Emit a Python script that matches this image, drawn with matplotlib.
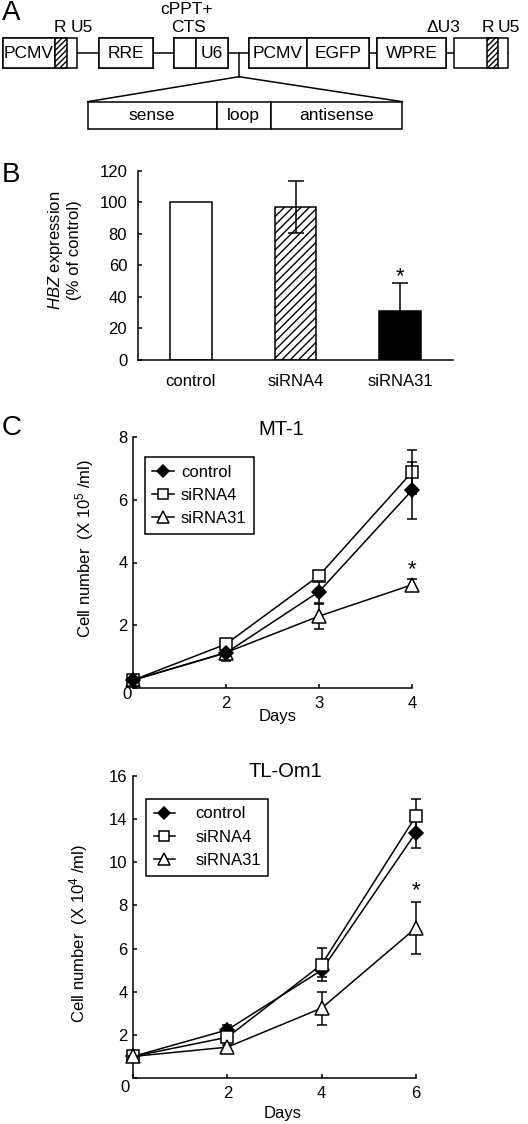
import numpy as np
import matplotlib
matplotlib.use("Agg")
import matplotlib.pyplot as plt
from matplotlib.patches import Rectangle
from matplotlib.lines import Line2D

plt.rcParams['font.family'] = ['Liberation Sans', 'DejaVu Sans']
plt.rcParams['mathtext.fontset'] = 'custom'
plt.rcParams['mathtext.rm'] = 'Liberation Sans'
plt.rcParams['mathtext.it'] = 'Liberation Sans:italic'
plt.rcParams['mathtext.default'] = 'regular'
plt.rcParams['hatch.linewidth'] = 1.0
plt.rcParams['font.size'] = 12

# panel B data
groups = ['control', 'siRNA4', 'siRNA31']
hbz = [100, 96.8, 31.1]
hbz_err = [0, 16.5, 17.5]

# panel C, MT-1 (days are drawn evenly spaced, as in the figure)
mt1_days = ['0', '2', '3', '4']
mt1_control = [0.25, 1.12, 3.07, 6.30]
mt1_control_err = [0, 0.10, 0.35, 0.90]
mt1_sirna4 = [0.25, 1.40, 3.58, 6.88]
mt1_sirna4_err = [0, 0.10, 0.10, 0.70]
mt1_sirna31 = [0.25, 1.13, 2.29, 3.29]
mt1_sirna31_err = [0, 0.27, 0.40, 0.20]

# panel C, TL-Om1 (y in tick-position units; labels as printed)
tl_days = [0, 2, 4, 6]
tl_control = [1.0, 2.23, 5.00, 11.38]
tl_control_err = [0, 0.25, 0.30, 0.70]
tl_sirna4 = [1.0, 1.89, 5.26, 12.15]
tl_sirna4_err = [0, 0.20, 0.75, 0.80]
tl_sirna31 = [1.0, 1.43, 3.24, 6.96]
tl_sirna31_err = [0, 0.10, 0.76, 1.20]
tl_ytick_labels = ['', '2', '4', '6', '8', '10', '14', '16']

# panel A construct (pixel layout)
top_boxes = [(2.7, 77.3), (99, 152.7), (174, 228.3), (249.3, 369.3), (377.3, 446), (454, 508.3)]
top_cells = [(2.7, 55.0, 'PCMV', ''), (55.0, 66.7, '', '//////'), (174, 196, '', ''),
             (196, 228.3, 'U6', ''), (99, 152.7, 'RRE', ''), (249.3, 306.7, 'PCMV', ''),
             (306.7, 369.3, 'EGFP', ''), (377.3, 446, 'WPRE', ''), (487.3, 498.3, '', '//////')]
hairpin = [(87.7, 216.7, 'sense'), (216.7, 270.7, 'loop'), (270.7, 402.3, 'antisense')]
top_labels = [('R', 60, 28), ('U5', 82, 28), ('cPPT+', 187, 10), ('CTS', 188, 28),
              ('ΔU3', 443, 28), ('R', 488, 28), ('U5', 509, 28)]

W, H = 528, 1124
fig = plt.figure(figsize=(W / 100, H / 100), dpi=100)


def box(l, t, r, b):
    return [l / W, 1 - b / H, (r - l) / W, (b - t) / H]


# ---- A: diagram
axd = fig.add_axes([0, 0, 1, 1])
axd.set_xlim(0, W)
axd.set_ylim(H, 0)
axd.axis('off')
lw = 1.1
axd.plot([2.7, 508.3], [53.3, 53.3], color='k', lw=lw, zorder=1)
for x0, x1 in top_boxes:
    axd.add_patch(Rectangle((x0, 38.3), x1 - x0, 30, fc='white', ec='k', lw=lw, zorder=2))
for x0, x1, lab, hatch in top_cells:
    axd.add_patch(Rectangle((x0, 38.3), x1 - x0, 30, fc='white', ec='k', lw=lw,
                            hatch=hatch, zorder=3))
    if lab:
        axd.text((x0 + x1) / 2, 53.8, lab, ha='center', va='center', fontsize=12.5, zorder=4)
for lab, x, y in top_labels:
    axd.text(x, y, lab, ha='center', va='center', fontsize=12.5)
axd.plot([239, 239], [53.3, 76.7], color='k', lw=lw)
axd.plot([87.7, 239, 402.3], [101.7, 76.7, 101.7], color='k', lw=lw)
for x0, x1, lab in hairpin:
    axd.add_patch(Rectangle((x0, 101.7), x1 - x0, 27.3, fc='white', ec='k', lw=lw))
    axd.text((x0 + x1) / 2, 115.5, lab, ha='center', va='center', fontsize=12.5)

for lab, y in [('A', 13), ('B', 175), ('C', 428)]:
    fig.text(2 / W, 1 - y / H, lab, fontsize=20, ha='left', va='center')

# ---- B: bar chart
axb = fig.add_axes(box(138.3, 170.7, 452.7, 360))
x = np.arange(len(groups))
bars = axb.bar(x, hbz, width=0.4, color=['white', 'white', 'black'], edgecolor='k', lw=lw)
bars[1].set_hatch('////')
axb.errorbar(x[1:], hbz[1:], yerr=hbz_err[1:], fmt='none', ecolor='k', elinewidth=lw,
             capsize=6, capthick=lw)
axb.text(x[2], hbz[2] + hbz_err[2] + 4, '*', ha='center', va='center', fontsize=16)
axb.set_xlim(-0.5, 2.5)
axb.set_ylim(0, 120)
axb.set_yticks(np.arange(0, 121, 20))
axb.set_xticks(x)
axb.set_xticklabels(groups)
axb.tick_params(axis='y', direction='in', length=3, width=lw, pad=8, labelsize=12)
axb.tick_params(axis='x', length=0, pad=10, labelsize=12)
for s in ['top', 'right']:
    axb.spines[s].set_visible(False)
for s in ['left', 'bottom']:
    axb.spines[s].set_linewidth(lw)
fig.text(64 / W, 1 - 250 / H, '$\\mathit{HBZ}$ expression\n(% of control)', rotation=90,
         ha='center', va='center', fontsize=12, multialignment='center')

styles = {
    'control': dict(marker='D', mfc='black', ms=7),
    'siRNA4': dict(marker='s', mfc='white', ms=8.5),
    'siRNA31': dict(marker='^', mfc='white', ms=9.5),
}
names = ['control', 'siRNA4', 'siRNA31']


def growth(ax, xs, series, order):
    for z, name in enumerate(order):
        y, e = series[name]
        cont = ax.errorbar(xs, y, yerr=e, color='k', lw=lw, mec='k', mew=lw,
                           capsize=3.5, capthick=lw, elinewidth=lw, zorder=3 + z,
                           **styles[name])
        for art in cont.get_children():
            art.set_clip_on(False)


def legend(ax, anchor, textpad):
    hs = [Line2D([], [], color='k', lw=lw, mec='k', mew=lw,
                 **dict(styles[n], ms=styles[n]['ms'] * 0.9)) for n in names]
    leg = ax.legend(hs, names, loc='upper left', bbox_to_anchor=anchor, fancybox=False,
                    edgecolor='k', framealpha=1, handlelength=1.3, handletextpad=textpad,
                    labelspacing=0.5, borderpad=0.45, borderaxespad=0, fontsize=12)
    leg.get_frame().set_linewidth(lw)


def style_axes(ax):
    for s in ['top', 'right']:
        ax.spines[s].set_visible(False)
    for s in ['left', 'bottom']:
        ax.spines[s].set_linewidth(lw)
    ax.tick_params(direction='in', length=3, width=lw, labelsize=12)
    ax.tick_params(axis='y', pad=4)
    ax.tick_params(axis='x', pad=6)


# ---- C: MT-1
ax1 = fig.add_axes(box(133, 437, 412, 688))
xs1 = np.arange(len(mt1_days))
growth(ax1, xs1, {'control': (mt1_control, mt1_control_err),
                  'siRNA4': (mt1_sirna4, mt1_sirna4_err),
                  'siRNA31': (mt1_sirna31, mt1_sirna31_err)},
       ['siRNA31', 'siRNA4', 'control'])
ax1.set_xlim(0, 3)
ax1.set_ylim(0, 8)
ax1.set_xticks(xs1)
ax1.set_xticklabels([''] + mt1_days[1:])
ax1.set_yticks([0, 2, 4, 6, 8])
ax1.set_yticklabels(['', '2', '4', '6', '8'])
style_axes(ax1)
ax1.text(xs1[3], 3.77, '*', ha='center', va='center', fontsize=16)
ax1.text(0.53, 1.031, 'MT-1', transform=ax1.transAxes, ha='center', va='center', fontsize=14.5)
ax1.annotate('0', xy=(0, 0), xytext=(-4.5, -5), textcoords='offset points',
             ha='center', va='center', fontsize=12)
ax1.set_xlabel('Days', fontsize=12, va='center')
ax1.xaxis.set_label_coords(0.52, -0.112)
ax1.set_ylabel('Cell number  (X 10$^{5}$ /ml)', fontsize=12, va='center')
ax1.yaxis.set_label_coords(-0.174, 0.554)
legend(ax1, (0.043, 0.92), 0.4)

# ---- C: TL-Om1
ax2 = fig.add_axes(box(133, 776, 416, 1078))
growth(ax2, tl_days, {'control': (tl_control, tl_control_err),
                      'siRNA4': (tl_sirna4, tl_sirna4_err),
                      'siRNA31': (tl_sirna31, tl_sirna31_err)},
       ['control', 'siRNA4', 'siRNA31'])
ax2.set_xlim(0, 6)
ax2.set_ylim(0, 14)
ax2.set_xticks(tl_days)
ax2.set_xticklabels([''] + [str(d) for d in tl_days[1:]])
ax2.set_yticks(np.arange(0, 15, 2))
ax2.set_yticklabels(tl_ytick_labels)
style_axes(ax2)
ax2.text(tl_days[3], 8.67, '*', ha='center', va='center', fontsize=16)
ax2.text(0.537, 1.014, 'TL-Om1', transform=ax2.transAxes, ha='center', va='center', fontsize=14.5)
ax2.annotate('0', xy=(0, 0), xytext=(-5.5, -7), textcoords='offset points',
             ha='center', va='center', fontsize=12)
ax2.set_xlabel('Days', fontsize=12, va='center')
ax2.xaxis.set_label_coords(0.527, -0.116)
ax2.set_ylabel('Cell number  (X 10$^{4}$ /ml)', fontsize=12, va='center')
ax2.yaxis.set_label_coords(-0.193, 0.48)
legend(ax2, (0.046, 0.924), 1.2)

fig.savefig('out.png', dpi=100)
